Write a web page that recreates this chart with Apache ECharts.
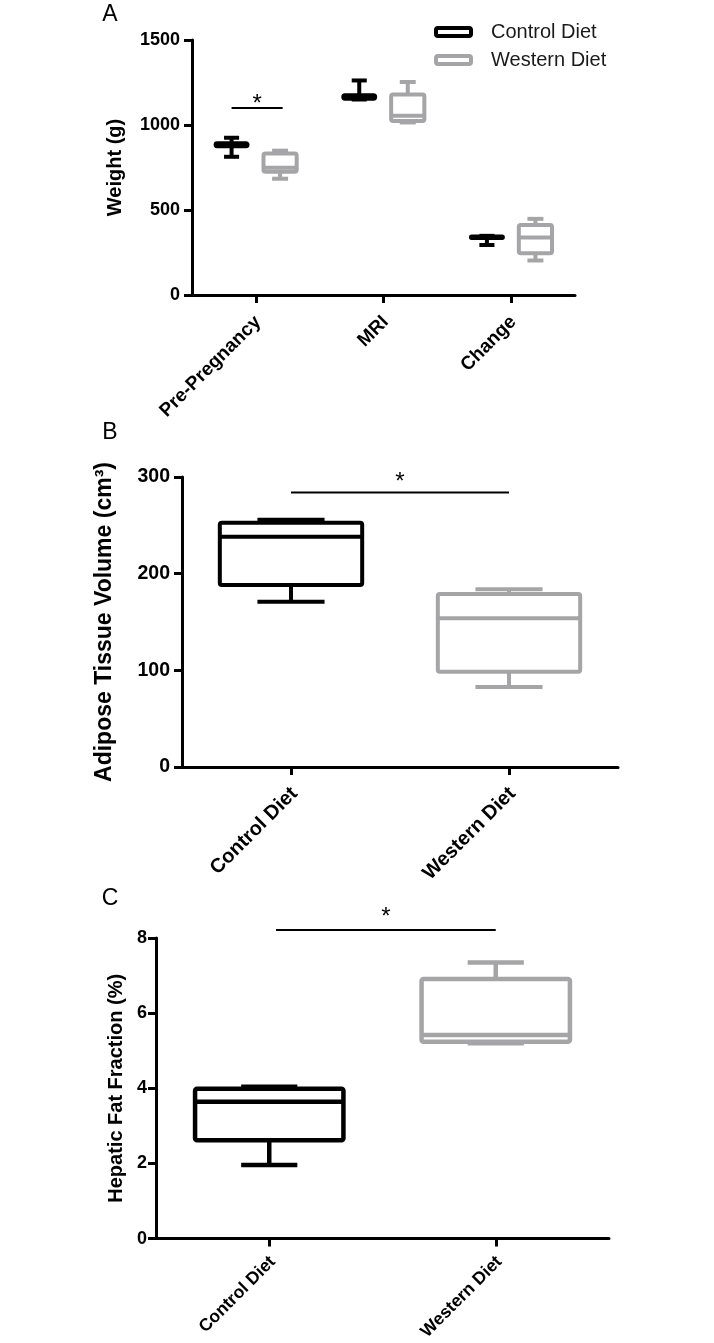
<!DOCTYPE html>
<html>
<head>
<meta charset="utf-8">
<title>Weight, adipose tissue and hepatic fat</title>
<script src="https://cdn.jsdelivr.net/npm/echarts@6/dist/echarts.min.js"></script>
<style>
  html, body { margin: 0; padding: 0; background: #fff; }
  #chart { width: 714px; height: 1343px; }
</style>
</head>
<body>
<div id="chart"></div>
<script>
// groups / colours
var groups = ['Control Diet', 'Western Diet'];
var groupColors = ['#000000', '#a5a5a7'];

// panel A: weight (g), each box = [min, q1, median, q3, max]
var catsA = ['Pre-Pregnancy', 'MRI', 'Change'];
var controlA = [[813, 875, 883, 892, 925], [1150, 1155, 1165, 1175, 1262], [294, 336, 340, 344, 348]];
var westernA = [[684, 725, 749, 833, 849], [1015, 1023, 1055, 1180, 1253], [203, 245, 338, 412, 448]];
var ticksA = [0, 500, 1000, 1500];

// panel B: adipose tissue volume (cm3)
var catsB = ['Control Diet', 'Western Diet'];
var adiposeB = [[171, 188.3, 238.2, 252.7, 255.9], [82.8, 98.6, 154, 179, 184]];
var ticksB = [0, 100, 200, 300];

// panel C: hepatic fat fraction (%)
var catsC = ['Control Diet', 'Western Diet'];
var hepaticC = [[1.96, 2.62, 3.64, 3.99, 4.04], [5.2, 5.24, 5.42, 6.91, 7.35]];
var ticksC = [0, 2, 4, 6, 8];

// height of the significance bars
var sigLevels = [1100, 284, 8.21];

var FONT = '"Liberation Sans", Arial, Helvetica, sans-serif';

// box and whisker drawn from the axis scales
function boxRenderer(opt) {
	return function (params, api) {
		var cat = api.value(0);
		var band = api.size([1, 0])[0];
		var cx = api.coord([cat, 0])[0] + band * (opt.offset || 0);
		var yMin = api.coord([cat, api.value(1)])[1];
		var yQ1 = api.coord([cat, api.value(2)])[1];
		var yMed = api.coord([cat, api.value(3)])[1];
		var yQ3 = api.coord([cat, api.value(4)])[1];
		var yMax = api.coord([cat, api.value(5)])[1];
		var bw = band * opt.box, cw = band * opt.cap;
		var color = opt.colors ? opt.colors[params.dataIndex] : opt.color;
		var ls = { stroke: color, lineWidth: opt.lw, lineCap: 'butt' };
		return {
			type: 'group',
			children: [
				{ type: 'line', shape: { x1: cx, y1: yMax, x2: cx, y2: yQ3 }, style: ls },
				{ type: 'line', shape: { x1: cx, y1: yQ1, x2: cx, y2: yMin }, style: ls },
				{ type: 'line', shape: { x1: cx - cw / 2, y1: yMax, x2: cx + cw / 2, y2: yMax }, style: ls },
				{ type: 'line', shape: { x1: cx - cw / 2, y1: yMin, x2: cx + cw / 2, y2: yMin }, style: ls },
				{ type: 'rect', shape: { x: cx - bw / 2, y: yQ3, width: bw, height: yQ1 - yQ3, r: 2 },
					style: { fill: '#fff', stroke: color, lineWidth: opt.lw, lineJoin: 'round' } },
				{ type: 'line', shape: { x1: cx - bw / 2, y1: yMed, x2: cx + bw / 2, y2: yMed }, style: ls }
			]
		};
	};
}

// significance bar with asterisk
function sigRenderer(opt) {
	return function (params, api) {
		var band = api.size([1, 0])[0];
		var y = api.coord([0, api.value(1)])[1];
		var x1 = api.coord([opt.from, 0])[0] + band * opt.fromOff;
		var x2 = api.coord([opt.to, 0])[0] + band * opt.toOff;
		return {
			type: 'group',
			children: [
				{ type: 'line', shape: { x1: x1, y1: y, x2: x2, y2: y }, style: { stroke: '#000', lineWidth: 2 } },
				{ type: 'text', x: (x1 + x2) / 2, y: y - opt.starGap,
					style: { text: '*', fill: '#000', font: 'normal 24px ' + FONT, textAlign: 'center', textVerticalAlign: 'middle' } }
			]
		};
	};
}

function toRows(arr) {
	return arr.map(function (v, i) { return [i].concat(v); });
}

function yAxisOf(grid, ticks, name, nameSize, nameGap, labelSize, labelMargin) {
	return {
		type: 'value', gridIndex: grid,
		min: ticks[0], max: ticks[ticks.length - 1], interval: ticks[1] - ticks[0],
		name: name, nameLocation: 'middle', nameGap: nameGap,
		nameTextStyle: { fontSize: nameSize, fontWeight: 'bold', color: '#000', fontFamily: FONT },
		axisLine: { show: true, lineStyle: { color: '#000', width: 3 } },
		axisTick: { show: true, length: 8, lineStyle: { color: '#000', width: 3 } },
		axisLabel: { fontSize: labelSize, fontWeight: 'bold', color: '#000', fontFamily: FONT, margin: labelMargin,
			formatter: function (v) { return String(v); } },
		splitLine: { show: false }
	};
}

function xAxisOf(grid, cats, labelSize, lineHeight, margin) {
	return {
		type: 'category', gridIndex: grid, data: cats, boundaryGap: true,
		axisLine: { show: true, onZero: false, lineStyle: { color: '#000', width: 3 } },
		axisTick: { show: true, alignWithLabel: true, length: 8, lineStyle: { color: '#000', width: 3 } },
		axisLabel: { rotate: 45, interval: 0, fontSize: labelSize, fontWeight: 'bold', color: '#000', fontFamily: FONT,
			margin: margin, align: 'right', verticalAlign: 'top', lineHeight: lineHeight },
		splitLine: { show: false }
	};
}

var chart = echarts.init(document.getElementById('chart'), null, { renderer: 'canvas' });

chart.setOption({
	backgroundColor: '#fff',
	animation: false,
	grid: [
		{ left: 192, right: 139, top: 40, bottom: 1048 },
		{ left: 182, right: 96, top: 477, bottom: 576 },
		{ left: 156, right: 105, top: 938, bottom: 103 }
	],
	legend: {
		orient: 'vertical', left: 429, top: 17, itemWidth: 35, itemHeight: 8, itemGap: 8,
		data: [
			{ name: groups[0], icon: 'roundRect', itemStyle: { color: '#fff', borderColor: groupColors[0], borderWidth: 4 } },
			{ name: groups[1], icon: 'roundRect', itemStyle: { color: '#fff', borderColor: groupColors[1], borderWidth: 4 } }
		],
		textStyle: { fontSize: 20, color: '#1a1a1a', fontFamily: FONT, lineHeight: 20, padding: [0, 0, 0, 15] }
	},
	graphic: [
		{ type: 'text', x: 110, y: 15, style: { text: 'A', font: 'normal 23px ' + FONT, fill: '#000', textAlign: 'center', textVerticalAlign: 'middle' } },
		{ type: 'text', x: 110, y: 433, style: { text: 'B', font: 'normal 23px ' + FONT, fill: '#000', textAlign: 'center', textVerticalAlign: 'middle' } },
		{ type: 'text', x: 110, y: 899, style: { text: 'C', font: 'normal 23px ' + FONT, fill: '#000', textAlign: 'center', textVerticalAlign: 'middle' } }
	],
	xAxis: [
		xAxisOf(0, catsA, 19, 6, 22),
		xAxisOf(1, catsB, 20, 10, 20),
		xAxisOf(2, catsC, 17.5, 10, 17)
	],
	yAxis: [
		yAxisOf(0, ticksA, 'Weight (g)', 20, 67, 18, 12),
		yAxisOf(1, ticksB, 'Adipose Tissue Volume (cm\u00b3)', 23, 66, 19.5, 12),
		yAxisOf(2, ticksC, 'Hepatic Fat Fraction (%)', 20, 18, 18, 9)
	],
	series: [
		{ name: groups[0], type: 'custom', xAxisIndex: 0, yAxisIndex: 0, itemStyle: { color: groupColors[0] },
			renderItem: boxRenderer({ offset: -0.19, box: 0.25, cap: 0.118, lw: 4, color: groupColors[0] }),
			data: toRows(controlA), encode: { x: 0, y: [1, 2, 3, 4, 5] } },
		{ name: groups[1], type: 'custom', xAxisIndex: 0, yAxisIndex: 0, itemStyle: { color: groupColors[1] },
			renderItem: boxRenderer({ offset: 0.19, box: 0.26, cap: 0.125, lw: 4, color: groupColors[1] }),
			data: toRows(westernA), encode: { x: 0, y: [1, 2, 3, 4, 5] } },
		{ type: 'custom', xAxisIndex: 0, yAxisIndex: 0,
			renderItem: sigRenderer({ from: 0, fromOff: -0.19, to: 0, toOff: 0.21, starGap: 4 }),
			data: [[0, sigLevels[0]]] },

		{ name: 'adipose', type: 'custom', xAxisIndex: 1, yAxisIndex: 1,
			renderItem: boxRenderer({ box: 0.653, cap: 0.308, lw: 4, colors: groupColors }),
			data: toRows(adiposeB), encode: { x: 0, y: [1, 2, 3, 4, 5] } },
		{ type: 'custom', xAxisIndex: 1, yAxisIndex: 1,
			renderItem: sigRenderer({ from: 0, fromOff: 0, to: 1, toOff: 0, starGap: 10 }),
			data: [[0, sigLevels[1]]] },

		{ name: 'hepatic', type: 'custom', xAxisIndex: 2, yAxisIndex: 2,
			renderItem: boxRenderer({ box: 0.655, cap: 0.248, lw: 4.5, colors: groupColors }),
			data: toRows(hepaticC), encode: { x: 0, y: [1, 2, 3, 4, 5] } },
		{ type: 'custom', xAxisIndex: 2, yAxisIndex: 2,
			renderItem: sigRenderer({ from: 0, fromOff: 0.03, to: 1, toOff: 0, starGap: 13 }),
			data: [[0, sigLevels[2]]] }
	]
});
</script>
</body>
</html>
